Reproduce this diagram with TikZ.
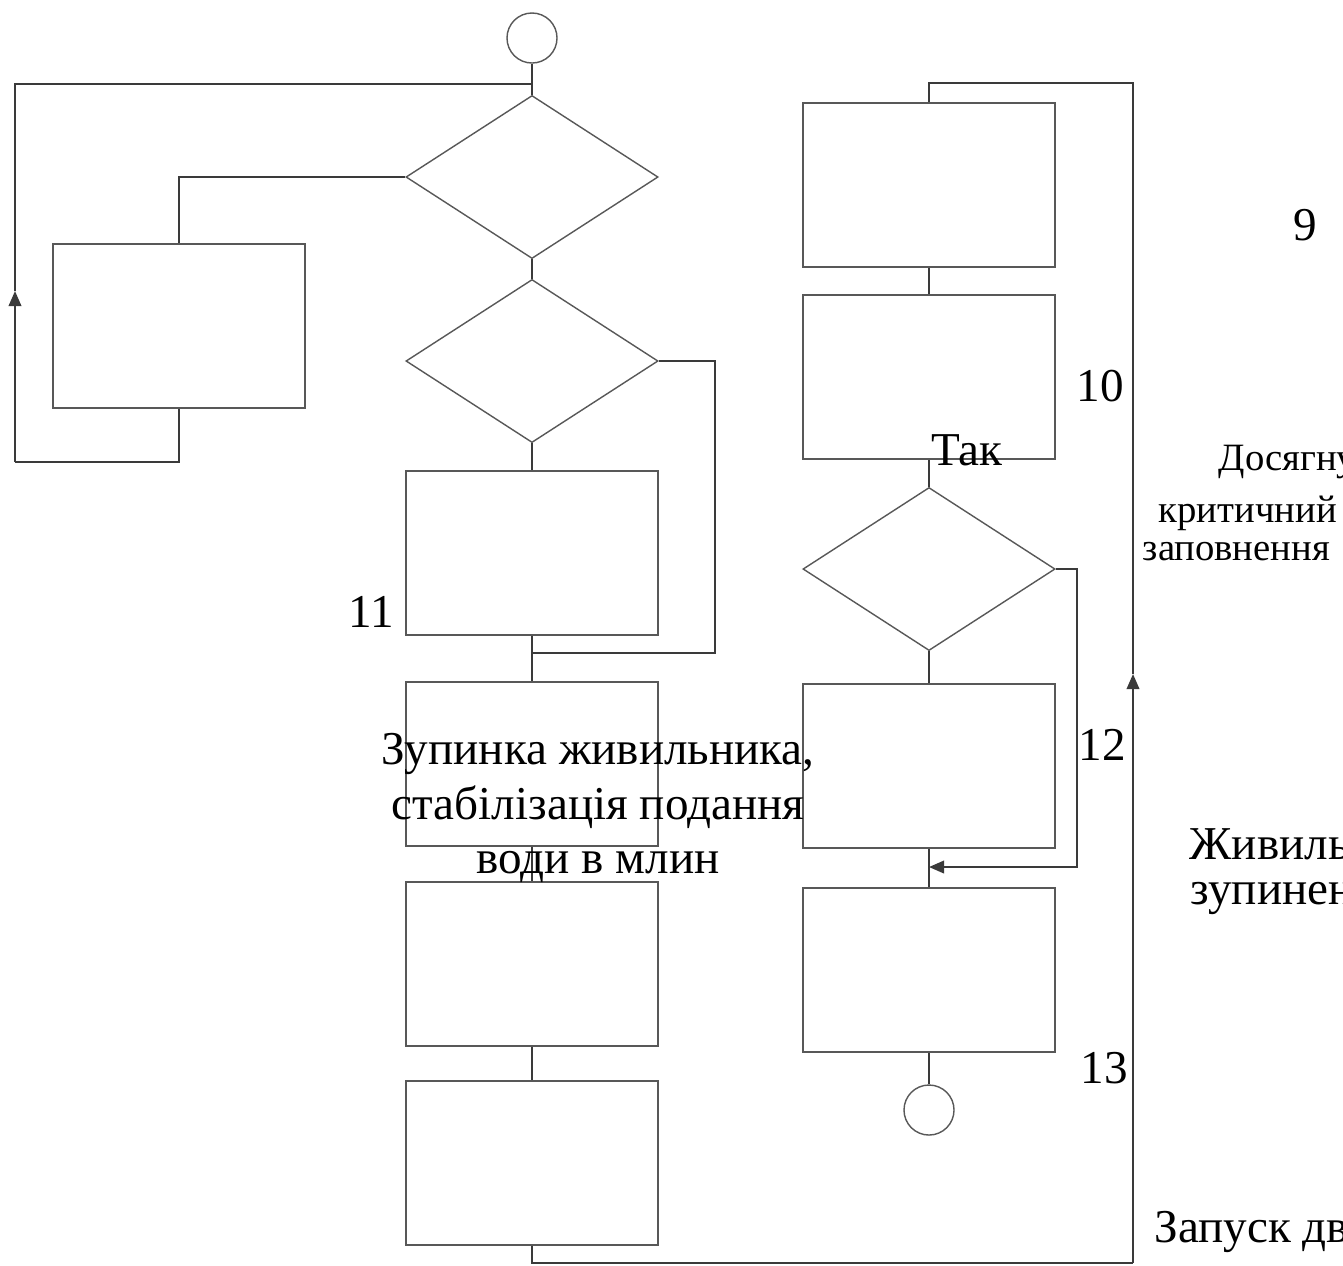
\documentclass[tikz,border=0pt]{standalone}
\usepackage{fontspec}
\setmainfont{Liberation Serif}
\usepackage{tikz}
\usetikzlibrary{positioning,arrows.meta,shapes.geometric}
\definecolor{chartline}{HTML}{3A3A3A}
\definecolor{boxedge}{HTML}{585858}

\begin{document}
\begin{tikzpicture}[
    x=0.01cm, y=-0.01cm,
    >={Triangle[length=1.5mm,width=1.25mm]},
    blockbox/.style={draw=boxedge, line width=0.45pt, rectangle,
        minimum width=2.52cm, minimum height=1.64cm, inner sep=0pt},
    testbox/.style={draw=boxedge, line width=0.4pt, diamond,
        minimum width=2.52cm, minimum height=1.63cm, inner sep=0pt},
    termbox/.style={draw=boxedge, line width=0.4pt, ellipse,
        minimum width=0.5cm, minimum height=0.5cm, inner sep=0pt},
    link/.style={draw=chartline, line width=0.6pt},
    bigtext/.style={font=\fontsize{13.4}{15.6}\selectfont, inner sep=0pt},
    smalltext/.style={font=\fontsize{11}{12.8}\selectfont, inner sep=0pt}
]
\useasboundingbox (0,0) rectangle (1343,1265);

% left column
\node[termbox] (start) at (532,38) {};
\node[testbox] (cond1) at (532,177) {};
\node[blockbox] (bypass) at (179,326) {};
\node[testbox] (cond2) at (532,361) {};
\node[blockbox] (stepA) at (532,553) {};
\node[blockbox] (stepB) at (532,764) {};
\node[blockbox] (stepC) at (532,964) {};
\node[blockbox] (stepD) at (532,1163) {};

% right column
\node[blockbox] (stepE) at (929,185) {};
\node[blockbox] (stepF) at (929,377) {};
\node[testbox] (cond3) at (929,569) {};
\node[blockbox] (stepG) at (929,766) {};
\node[blockbox] (stepH) at (929,970) {};
\node[termbox] (finish) at (929,1110) {};

\coordinate (topjoin) at (532,84);
\coordinate (loopcorner) at (15,462);
\coordinate (looparrow) at (15,291);
\coordinate (mergeA) at (532,653);
\coordinate (rightbottom) at (1133,1263);
\coordinate (rightarrow) at (1133,674);
\coordinate (righttop) at (1133,83);
\coordinate (sidejoin) at (929,867);

% loop round the bypass block
\draw[link] (start) -- (cond1);
\draw[link] (cond1.west) -| (bypass.north);
\draw[link] (bypass.south) |- (loopcorner);
\draw[link,->] (loopcorner) -- (looparrow);
\draw[link] (looparrow) |- (topjoin);

\draw[link] (cond1) -- (cond2);
\draw[link] (cond2.east) -- ++(56,0) |- (mergeA);
\draw[link] (cond2) -- (stepA);
\draw[link] (stepA) -- (stepB);
\draw[link] (stepB) -- (stepC);
\draw[link] (stepC) -- (stepD);

% return line to the second column
\draw[link] (stepD.south) |- (rightbottom);
\draw[link,->] (rightbottom) -- (rightarrow);
\draw[link] (rightarrow) -- (righttop) -| (stepE.north);

\draw[link] (stepE) -- (stepF);
\draw[link] (stepF) -- (cond3);
\draw[link] (cond3) -- (stepG);
\draw[link] (stepG) -- (stepH);
\draw[link] (stepH) -- (finish);
\draw[link,->] (cond3.east) -- ++(21,0) |- (sidejoin);

% labels
\node[bigtext, anchor=base] (lab9) at (1305,240) {9};
\node[bigtext, anchor=base] (lab10) at (1100,401) {10};
\node[bigtext, anchor=base] (lab11) at (371,627) {11};
\node[bigtext, anchor=base] (lab12) at (1102,760) {12};
\node[bigtext, anchor=base] (lab13) at (1104,1083) {13};
\node[bigtext, anchor=base] (labyes) at (967,465) {Так};
\node[bigtext, align=center] (labstop) at (598,808) {Зупинка живильника,\\стабілізація подання\\води в млин};
\node[smalltext, anchor=base west] (labreach) at (1218,470) {Досягну};
\node[smalltext, anchor=base west] (labcrit) at (1158,522) {критичний};
\node[smalltext, anchor=base west] (labfill) at (1142,560) {заповнення};
\node[bigtext, anchor=base west] (labfeed) at (1189,859) {Живильн};
\node[bigtext, anchor=base west] (labhalt) at (1190,904) {зупинен};
\node[bigtext, anchor=base west] (labstart) at (1154,1242) {Запуск дв};
\end{tikzpicture}
\end{document}
